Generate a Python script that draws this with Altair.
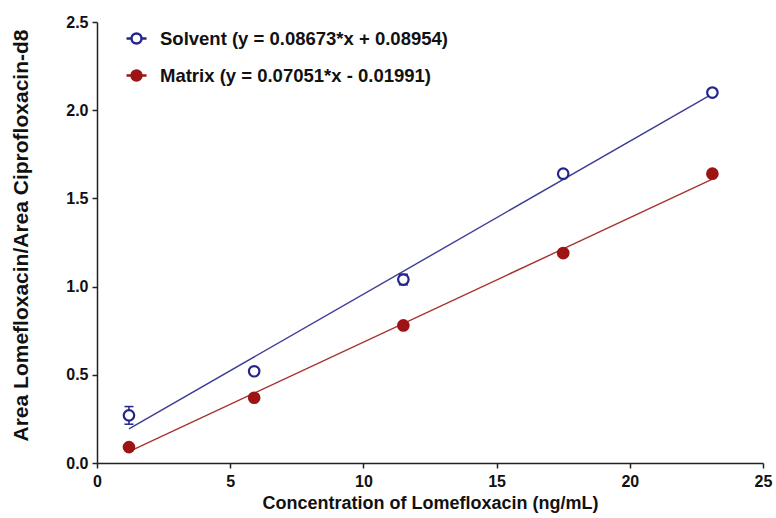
import altair as alt
import pandas as pd

# Calibration data: Lomefloxacin concentration vs area ratio to internal standard
conc = [1.2, 5.9, 11.5, 17.5, 23.1]
solvent_ratio = [0.27, 0.52, 1.04, 1.64, 2.10]
solvent_err = [0.05, 0.01, 0.03, 0.01, 0.01]
matrix_ratio = [0.09, 0.37, 0.78, 1.19, 1.64]

series_names = ["Solvent (y = 0.08673*x + 0.08954)", "Matrix (y = 0.07051*x - 0.01991)"]
slopes = [0.08673, 0.07051]
intercepts = [0.08954, -0.01991]
stroke_colors = ["#24248c", "#9e1414"]
fill_colors = ["#ffffff", "#9e1414"]
line_colors = ["#3c3c96", "#a83232"]

pts = pd.DataFrame({
    "series": [series_names[0]] * len(conc) + [series_names[1]] * len(conc),
    "x": conc + conc,
    "y": solvent_ratio + matrix_ratio,
})
err = pd.DataFrame({
    "x": conc,
    "lo": [y - e for y, e in zip(solvent_ratio, solvent_err)],
    "hi": [y + e for y, e in zip(solvent_ratio, solvent_err)],
})

# Regression lines over the measured concentration range
fit_rows = []
for name, m, b in zip(series_names, slopes, intercepts):
    for x in (conc[0], conc[-1]):
        fit_rows.append({"series": name, "x": x, "y": m * x + b})
fit = pd.DataFrame(fit_rows)

FONT = "Liberation Sans"
INK = "#111111"

x_enc = alt.X("x:Q", scale=alt.Scale(domain=[0, 25], nice=False),
              axis=alt.Axis(values=[0, 5, 10, 15, 20, 25], format="d",
                            title="Concentration of Lomefloxacin (ng/mL)",
                            labelFont=FONT, labelFontSize=16, labelFontWeight="bold",
                            labelColor=INK, labelPadding=5, labelFlush=False,
                            titleFont=FONT, titleFontSize=18, titleFontWeight="bold",
                            titleColor=INK, titlePadding=5,
                            domainColor="#222222", domainWidth=1.5,
                            tickColor="#222222", tickWidth=1.5, tickSize=5, grid=False))
y_enc = alt.Y("y:Q", scale=alt.Scale(domain=[0, 2.5], nice=False),
              axis=alt.Axis(values=[0, 0.5, 1.0, 1.5, 2.0, 2.5], format=".1f",
                            title="Area Lomefloxacin/Area Ciprofloxacin-d8",
                            labelFont=FONT, labelFontSize=16, labelFontWeight="bold",
                            labelColor=INK, labelPadding=4,
                            titleFont=FONT, titleFontSize=21, titleFontWeight="bold",
                            titleColor=INK, titleX=-66, titleY=213,
                            domainColor="#222222", domainWidth=1.5,
                            tickColor="#222222", tickWidth=1.5, tickSize=5, grid=False))

# Legend symbol: a short line segment through an open/filled circle
legend_symbol = ("M-1,0L-0.5,0M0.5,0L1,0"
                 "M-0.5,0A0.5,0.5,0,1,1,0.5,0A0.5,0.5,0,1,1,-0.5,0Z")
leg = alt.Legend(
    title=None, orient="none", legendX=28, legendY=5, padding=0,
    symbolType=legend_symbol, symbolSize=400, symbolStrokeWidth=2.4,
    symbolFillColor="white", symbolStrokeColor="black", symbolOpacity=1,
    labelFont=FONT, labelFontSize=18.5, labelFontWeight="bold",
    labelColor=INK, rowPadding=15, labelOffset=12, labelLimit=0,
)

# One fitted line per series, each in its own colour
line_layers = [
    alt.Chart(fit).transform_filter(alt.datum.series == name)
    .mark_line(strokeWidth=1.4, color=col)
    .encode(x=x_enc, y=y_enc)
    for name, col in zip(series_names, line_colors)
]

# Error bars (solvent series) with caps
bars = alt.Chart(err).mark_rule(strokeWidth=1.5, color=stroke_colors[0]).encode(
    x="x:Q", y="lo:Q", y2="hi:Q")
caps_lo = alt.Chart(err).mark_tick(thickness=1.5, size=9, orient="horizontal",
                                   color=stroke_colors[0], opacity=1).encode(x="x:Q", y="lo:Q")
caps_hi = alt.Chart(err).mark_tick(thickness=1.5, size=9, orient="horizontal",
                                   color=stroke_colors[0], opacity=1).encode(x="x:Q", y="hi:Q")

points = alt.Chart(pts).mark_point(size=110, strokeWidth=2.2, opacity=1, shape="circle").encode(
    x="x:Q", y="y:Q",
    stroke=alt.Stroke("series:N", scale=alt.Scale(domain=series_names, range=stroke_colors), legend=leg),
    fill=alt.Fill("series:N", scale=alt.Scale(domain=series_names, range=fill_colors), legend=leg),
)

chart = (
    alt.layer(*line_layers, bars, caps_lo, caps_hi, points)
    .properties(
        width=666, height=441,
        autosize=alt.AutoSizeParams(type="none"),
        padding={"left": 97, "top": 22, "right": 13, "bottom": 55},
        background="white",
    )
    .configure_view(stroke=None)
)

chart.save("out.html", embed_options={"renderer": "svg", "actions": False})
